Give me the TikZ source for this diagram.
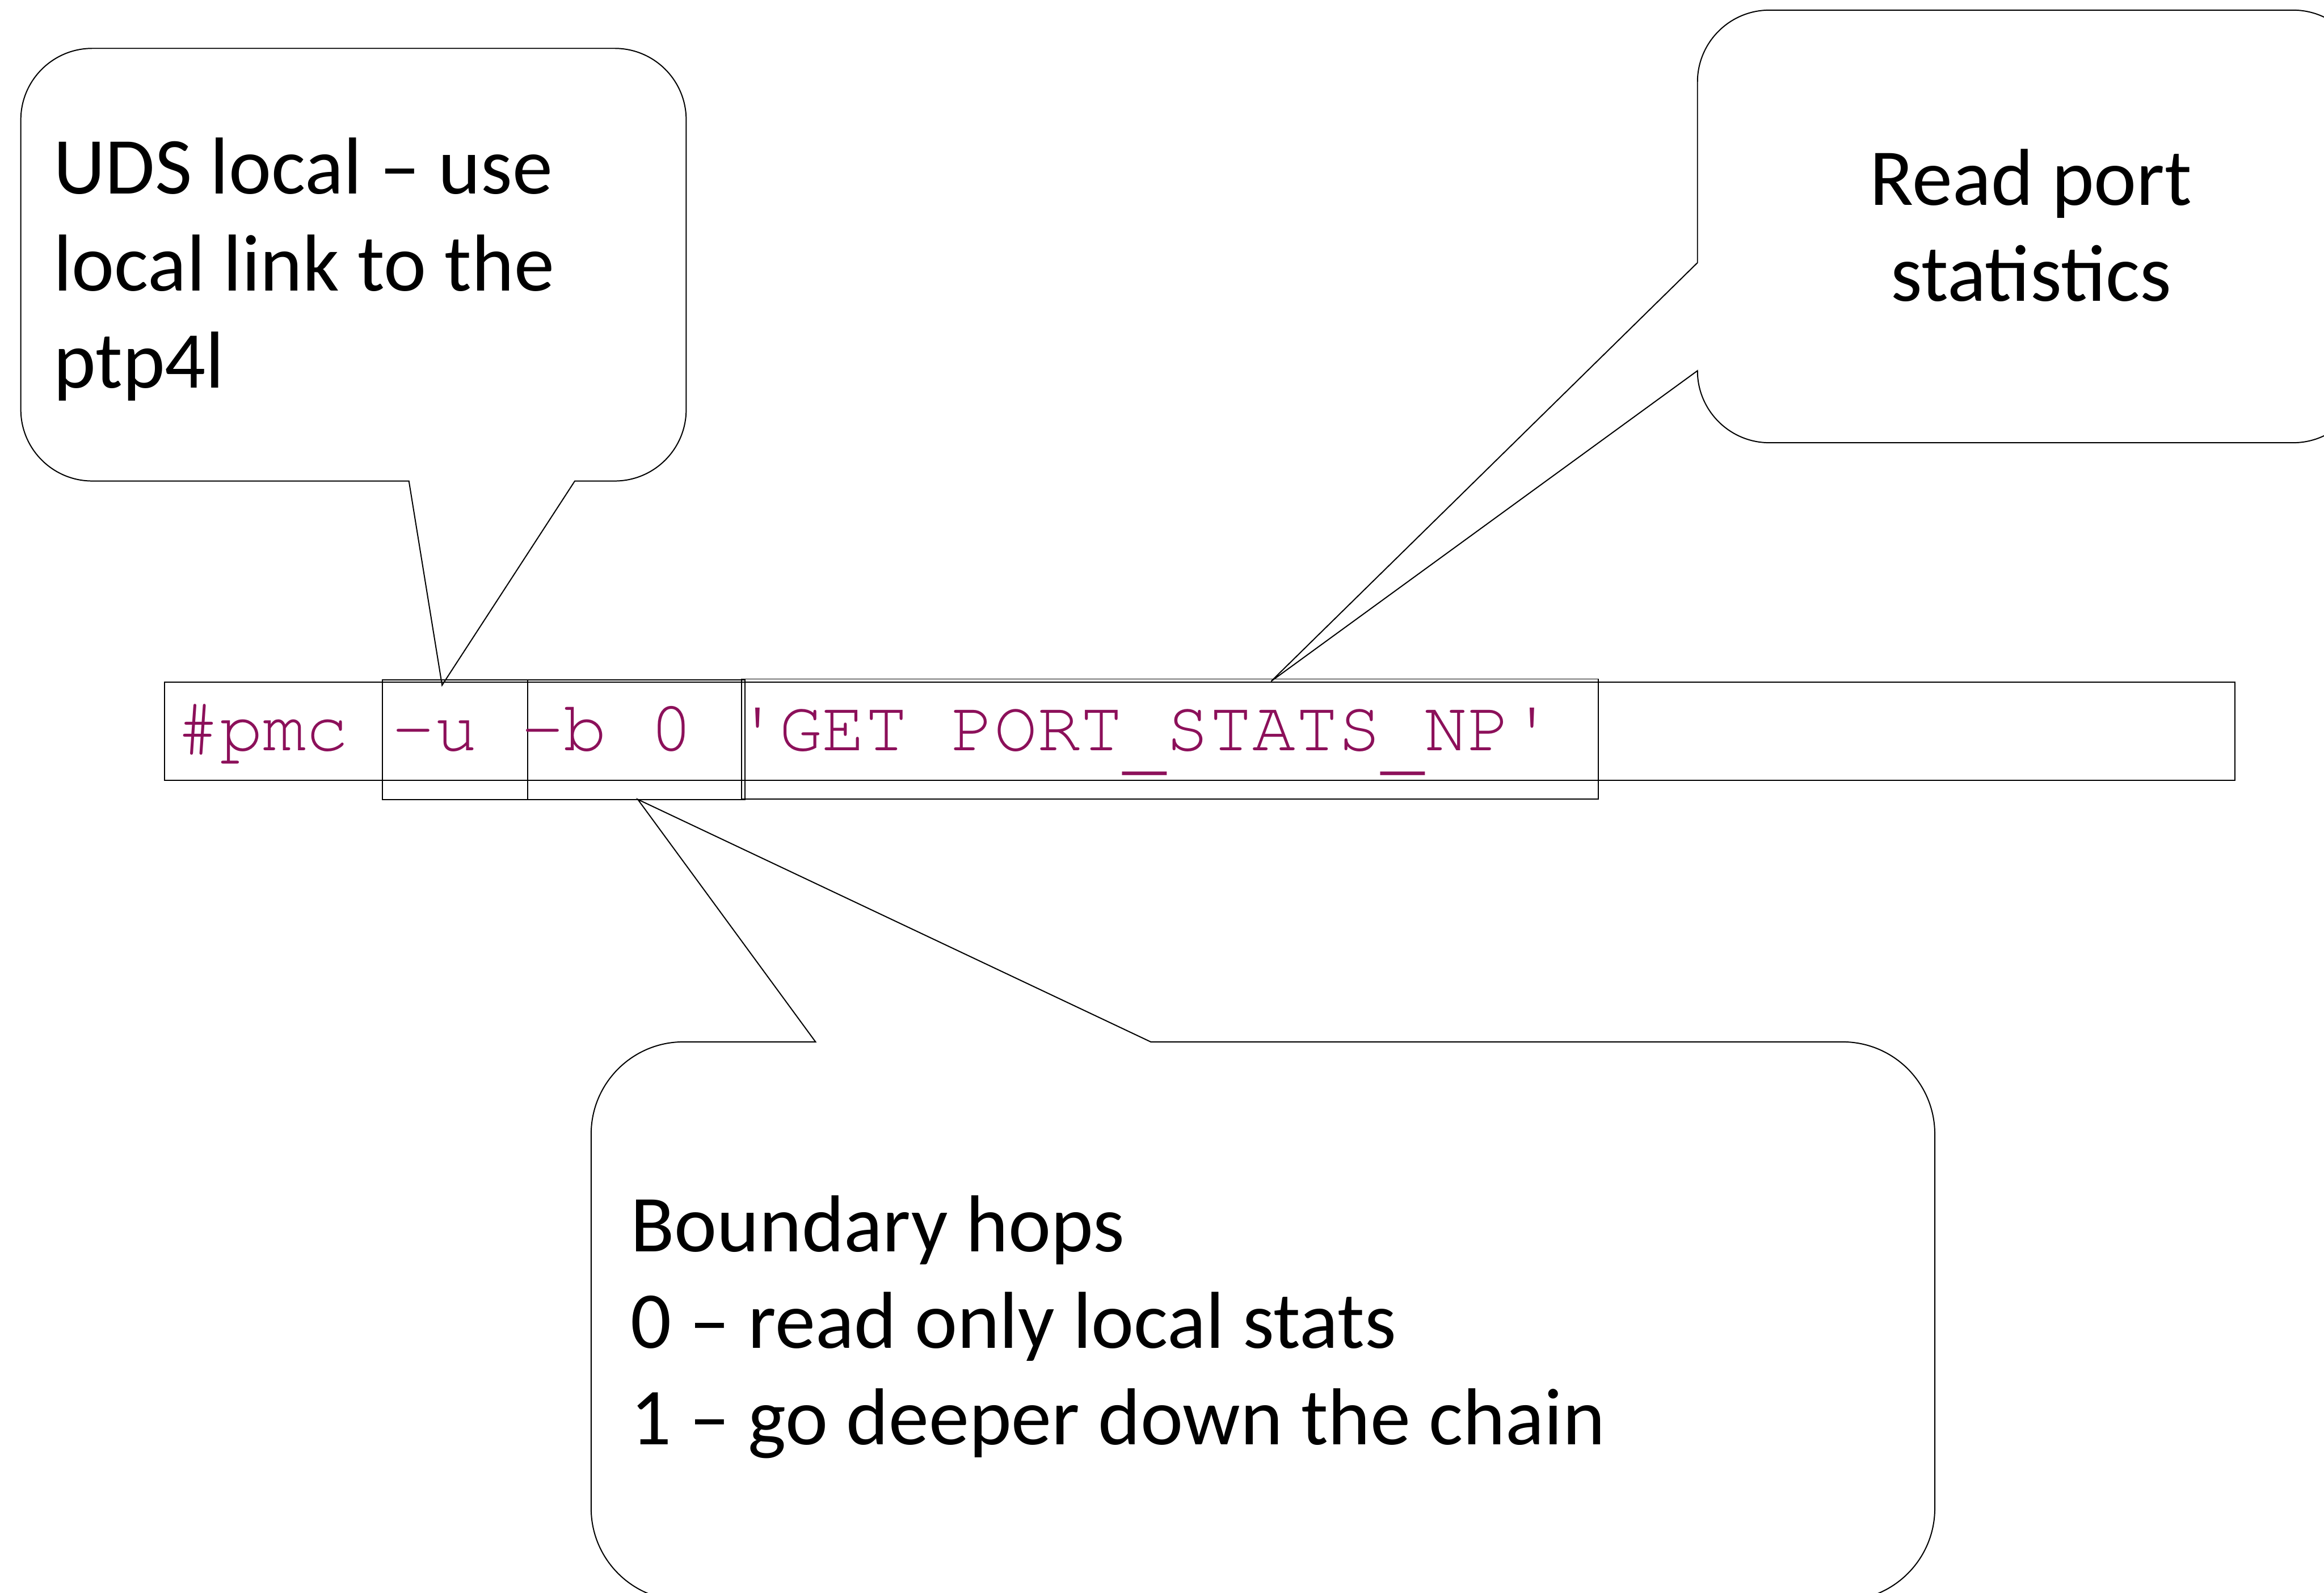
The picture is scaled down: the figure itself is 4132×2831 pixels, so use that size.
\documentclass[tikz,border=0pt]{standalone}
\usepackage{fontspec}
\setmainfont{Carlito}
\newfontfamily\cmdfont{TeX Gyre Cursor}
\definecolor{cmdcolor}{RGB}{140,16,90}
% underscore set a little lower, as in Courier
\newcommand\lowbar{\raisebox{-28pt}{\_}}
\tikzset{
  outline/.style={draw=black, line width=2pt, line join=miter},
  optbox/.style={draw=black, line width=2pt, inner sep=0pt},
  note/.style={font=\fontsize{143.5}{171}\selectfont, inner sep=0pt},
  code/.style={font=\cmdfont\fontsize{127.5}{150}\selectfont, text=cmdcolor, inner sep=0pt},
}
\begin{document}
\begin{tikzpicture}[x=1pt,y=-1pt]
\useasboundingbox (0,0) rectangle (4132,2831);
\clip (0,0) rectangle (4132,2831);
\fill[white] (0,0) rectangle (4132,2831);

% command line and the boxes round its options
\node[optbox, minimum width=3681pt, minimum height=174pt] (cmdline) at (2133.5,1300) {};
\node[optbox, minimum width=258pt, minimum height=212pt] (optu) at (809,1315) {};
\node[optbox, minimum width=387pt, minimum height=212pt] (optb) at (1131.5,1315) {};
\node[optbox, minimum width=1524pt, minimum height=213pt] (optget) at (2080,1313.5) {};
\node[code, anchor=base west] (cmdtext) at (314,1334) {\#pmc -u -b 0 'GET PORT\lowbar STATS\lowbar NP'};

% pointer tips of the callouts
\coordinate (tipu) at (786,1218);
\coordinate (tipget) at (2260,1211);
\coordinate (tipb) at (1134,1421);

% callout: UDS local
\draw[outline] (164,86) -- (1093,86)
  .. controls (1163.1,86) and (1220,142.9) .. (1220,213)
  -- (1220,728)
  .. controls (1220,798.1) and (1163.1,855) .. (1093,855)
  -- (1022,855) -- (tipu) -- (727,855) -- (164,855)
  .. controls (93.9,855) and (37,798.1) .. (37,728)
  -- (37,213)
  .. controls (37,142.9) and (93.9,86) .. (164,86) -- cycle;
\node[note, anchor=base west] (uds1) at (95,345) {UDS local – use};
\node[note, anchor=base west] (uds2) at (95,517) {local link to the};
\node[note, anchor=base west] (uds3) at (95,690) {ptp4l};

% callout: port statistics
\draw[outline] (3146,18) -- (4077,18)
  .. controls (4147.7,18) and (4205,75.3) .. (4205,146)
  -- (4205,659)
  .. controls (4205,729.7) and (4147.7,787) .. (4077,787)
  -- (3146,787)
  .. controls (3075.3,787) and (3018,729.7) .. (3018,659)
  -- (tipget) -- (3018,467) -- (3018,146)
  .. controls (3018,75.3) and (3075.3,18) .. (3146,18) -- cycle;
\node[note, anchor=base] (rp1) at (3611,365) {Read port};
\node[note, anchor=base] (rp2) at (3611,535) {statistics};

% callout: boundary hops
\draw[outline] (1215,1852) -- (1450,1852) -- (tipb) -- (2046,1852) -- (3276,1852)
  .. controls (3366.6,1852) and (3440,1925.4) .. (3440,2016)
  -- (3440,2681)
  .. controls (3440,2771.6) and (3366.6,2845) .. (3276,2845)
  -- (1215,2845)
  .. controls (1124.4,2845) and (1051,2771.6) .. (1051,2681)
  -- (1051,2016)
  .. controls (1051,1925.4) and (1124.4,1852) .. (1215,1852) -- cycle;
\node[note, anchor=base west] (bh1) at (1121,2225) {Boundary hops};
\node[note, anchor=base west] (bh2) at (1121,2396) {0 – read only local stats};
\node[note, anchor=base west] (bh3) at (1121,2568) {1 – go deeper down the chain};
\end{tikzpicture}
\end{document}
